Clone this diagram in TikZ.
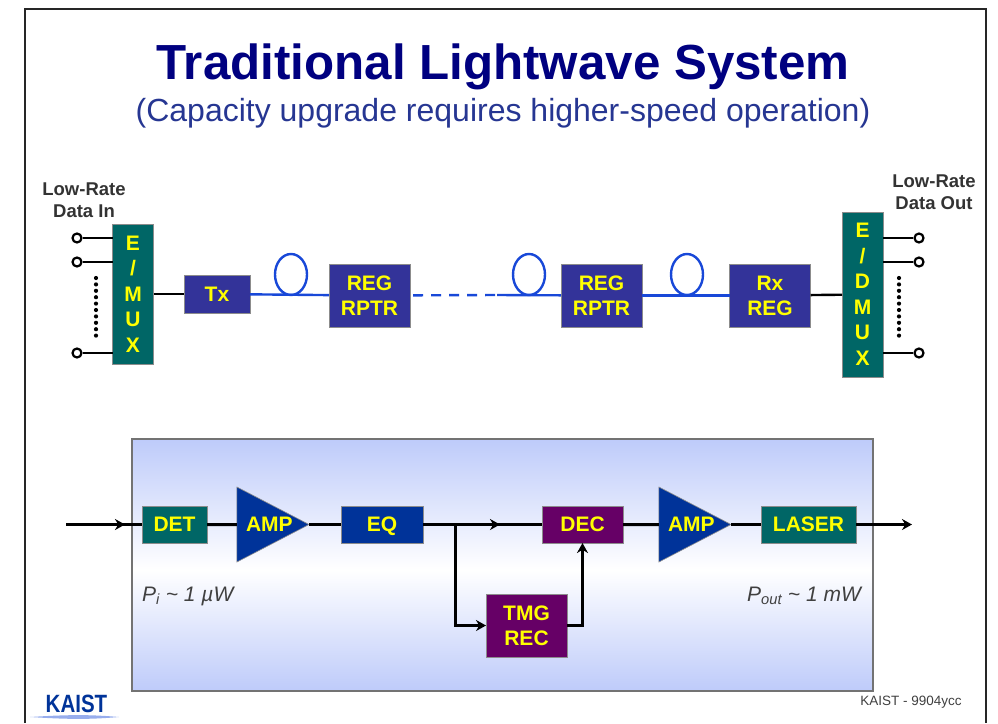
\documentclass[tikz,border=0pt]{standalone}
\usepackage{fontspec}
\setmainfont{Liberation Sans}
\usepackage{xcolor}
\usetikzlibrary{arrows.meta, positioning, calc, shapes.geometric}
\definecolor{navytitle}{RGB}{0,0,128}
\definecolor{subtitle}{RGB}{38,54,146}
\definecolor{tealbox}{RGB}{0,102,102}
\definecolor{navybox}{RGB}{51,51,153}
\definecolor{bluebox}{RGB}{0,51,153}
\definecolor{purplebox}{RGB}{102,0,102}
\definecolor{labelyellow}{RGB}{255,255,0}
\definecolor{fibreblue}{RGB}{24,72,216}
\definecolor{panelblue}{RGB}{190,203,250}
\tikzset{
  blockbox/.style={draw=black!45, line width=0.6pt, inner sep=0pt, outer sep=0pt, align=center, text=labelyellow,
    font=\fontsize{21}{25}\selectfont\bfseries},
  muxbox/.style={blockbox, fill=tealbox, minimum width=41pt, font=\fontsize{21}{25.5}\selectfont\bfseries},
  ampbox/.style={blockbox, fill=bluebox, shape=isosceles triangle, isosceles triangle stretches,
    minimum width=75pt, minimum height=72pt, anchor=apex},
  fibreloop/.style={draw=fibreblue, line width=2.4pt, shape=ellipse, minimum width=32pt, minimum height=41pt,
    inner sep=0pt, outer sep=0pt, anchor=south},
  fibre/.style={draw=fibreblue, line width=2.4pt},
  wire/.style={draw=black, line width=2.4pt},
  signal/.style={draw=black, line width=3pt},
  tipped/.style={-{Stealth[length=10pt,width=11pt]}},
  terminal/.style={draw=black, fill=white, line width=2.2pt, shape=circle, minimum size=9pt, inner sep=0pt},
  dotrow/.style={draw=black, line width=4.2pt, line cap=round, dash pattern=on 0pt off 6.4pt},
  sidelabel/.style={align=center, text=black!80, font=\fontsize{18.5}{22}\selectfont\bfseries},
  powerlabel/.style={text=black!75, inner sep=0pt, anchor=west, font=\fontsize{21}{25}\selectfont\itshape}
}
\begin{document}
\begin{tikzpicture}[x=1pt, y=-1pt]
  \useasboundingbox (0,0) rectangle (998,723);

  % Frame
  \draw[black!85, line width=2.6pt] (25,723) -- (25,9) -- (986,9) -- (986,723);

  % Title
  \node[text=navytitle, font=\fontsize{49.3}{56}\selectfont\bfseries] (title) at (503,67) {Traditional Lightwave System};
  \node[text=subtitle, font=\fontsize{32}{38}\selectfont] (subtitle) at (503,113) {(Capacity upgrade requires higher-speed operation)};

  % Line
  \node[sidelabel] (datain) at (84,200) {Low-Rate\\Data In};
  \node[sidelabel] (dataout) at (934,192) {Low-Rate\\Data Out};

  \node[muxbox, minimum height=140pt] (mux) at (133,294) {E\\/\\M\\U\\X};
  \node[blockbox, fill=navybox, minimum width=66pt, minimum height=38pt] (tx) at (217,294) {Tx};
  \node[blockbox, fill=navybox, minimum width=81pt, minimum height=63pt] (reg1) at (369.5,295.5) {REG\\RPTR};
  \node[blockbox, fill=navybox, minimum width=81pt, minimum height=63pt] (reg2) at (601.5,295.5) {REG\\RPTR};
  \node[blockbox, fill=navybox, minimum width=81pt, minimum height=63pt] (rx) at (770,295.5) {Rx\\REG};
  \node[muxbox, minimum height=165pt] (dmux) at (862.5,294.5) {E\\/\\D\\M\\U\\X};

  \node[fibreloop] (loop1) at (291,295) {};
  \node[fibreloop] (loop2) at (529,295) {};
  \node[fibreloop] (loop3) at (687,295) {};

  \coordinate (dashend) at (497,295);

  \node[terminal] (in1) at (77,238) {};
  \node[terminal] (in2) at (77,262) {};
  \node[terminal] (in3) at (77,353) {};
  \node[terminal] (out1) at (919,238) {};
  \node[terminal] (out2) at (919,262) {};
  \node[terminal] (out3) at (919,353) {};

  \coordinate (dotsa) at (96,278);
  \coordinate (dotsb) at (96,339);
  \coordinate (dotsc) at (899,278);
  \coordinate (dotsd) at (899,339);

  \draw[wire] (in1) -- (mux.west |- in1);
  \draw[wire] (in2) -- (mux.west |- in2);
  \draw[wire] (in3) -- (mux.west |- in3);
  \draw[wire] (out1) -- (dmux.east |- out1);
  \draw[wire] (out2) -- (dmux.east |- out2);
  \draw[wire] (out3) -- (dmux.east |- out3);
  \draw[dotrow] (dotsa) -- (dotsb);
  \draw[dotrow] (dotsc) -- (dotsd);

  \draw[wire] (mux) -- (tx);
  \draw[fibre] (tx) -- (reg1);
  \draw[fibre, dash pattern=on 10pt off 8pt, shorten <=3pt] (reg1) -- (dashend);
  \draw[fibre] (dashend) -- (reg2);
  \draw[fibre] (reg2) -- (rx);
  \draw[wire] (rx) -- (dmux);

  % Panel
  \fill[top color=panelblue, bottom color=white] (132,439) rectangle (873,570);
  \fill[top color=white, bottom color=panelblue] (132,570) rectangle (873,691);
  \draw[black!55, line width=1.2pt] (132,439) rectangle (873,691);

  \node[blockbox, fill=tealbox, minimum width=65pt, minimum height=37pt] (det) at (174.5,524.5) {DET};
  \node[ampbox] (amp1) at (309,524.5) {\hspace*{8pt}AMP};
  \node[blockbox, fill=bluebox, minimum width=82pt, minimum height=37pt, text depth=0pt] (eq) at (382,524.5) {EQ};
  \node[blockbox, fill=purplebox, minimum width=81pt, minimum height=37pt] (dec) at (582.5,524.5) {DEC};
  \node[ampbox] (amp2) at (731,524.5) {\hspace*{8pt}AMP};
  \node[blockbox, fill=tealbox, minimum width=95pt, minimum height=37pt] (laser) at (808.5,524.5) {LASER};
  \node[blockbox, fill=purplebox, minimum width=81pt, minimum height=63pt] (tmg) at (526.5,625.5) {TMG\\REC};

  \coordinate (start) at (66,524.5);
  \coordinate (startmark) at (125,524.5);
  \coordinate (branch) at (455,524.5);
  \coordinate (branchmark) at (500,524.5);
  \coordinate (finish) at (912,524.5);

  \draw[signal] (start) -- (det);
  \draw[signal, tipped] (start) -- (startmark);
  \draw[signal] (det) -- (amp1);
  \draw[signal] (amp1.apex) -- (eq);
  \draw[signal] (eq) -- (dec);
  \draw[signal, tipped] (branch) -- (branchmark);
  \draw[signal] (dec) -- (amp2);
  \draw[signal] (amp2.apex) -- (laser);
  \draw[signal, tipped] (laser) -- (finish);
  \draw[signal, tipped] (branch) |- (tmg.west);
  \draw[signal, tipped] (tmg.east) -| (dec.south);

  \node[powerlabel] (pin) at (142,596) {P\textsubscript{i} \textasciitilde{} 1 µW};
  \node[powerlabel] (pout) at (747,596) {P\textsubscript{out} \textasciitilde{} 1 mW};

  % Footer
  \fill[fibreblue!45] (30,717) .. controls (70,714.5) and (90,714.5) .. (119,717) .. controls (90,719.5) and (70,719.5) .. (30,717);
  \node[text=bluebox, font=\fontsize{25}{30}\selectfont\bfseries] (kaist) at (76.5,704) {\scalebox{0.82}[1]{KAIST}};
  \node[text=black!75, font=\fontsize{13.5}{16}\selectfont] (credit) at (911,702) {KAIST - 9904ycc};
\end{tikzpicture}
\end{document}
